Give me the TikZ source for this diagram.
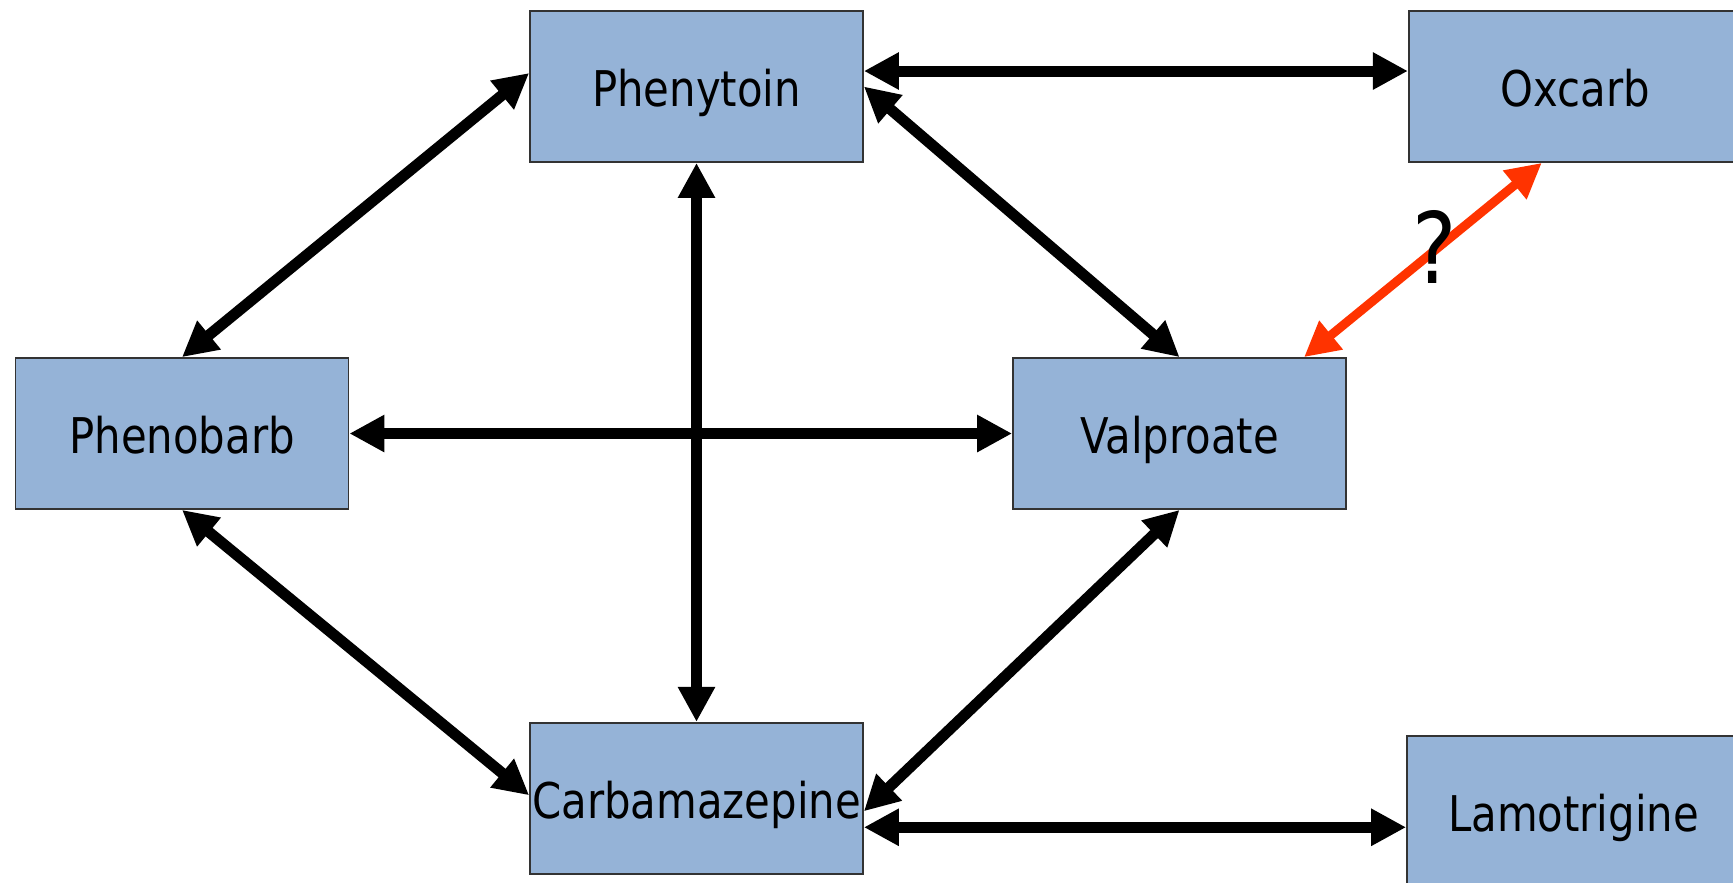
\documentclass[tikz,border=0pt]{standalone}
\usepackage{fontspec}
\setmainfont{DejaVu Sans}[FakeStretch=0.85]
\usepackage{tikz}
\usetikzlibrary{arrows.meta,positioning}

\definecolor{drugblue}{RGB}{149,179,215}
\definecolor{askred}{RGB}{255,51,0}

\begin{document}
\begin{tikzpicture}[
      font=\fontsize{14}{17}\selectfont,
      drug/.style={draw=black!80, line width=0.5pt, fill=drugblue, align=center,
        minimum width=3.33cm, minimum height=1.51cm, inner sep=0pt,
        text height=4mm, text depth=0pt},
      link/.style={{Triangle[length=3.5mm, width=3.5mm]}-{Triangle[length=3.5mm, width=3.5mm]},
        line width=1.1mm},
      ask/.style={link, draw=askred, line width=0.9mm},
    ]
    \useasboundingbox (0,0) rectangle (17.33,-8.82);
    \node[drug] (phenytoin) at (6.965,-0.865) {Phenytoin};
    \node[drug, right=5.44cm of phenytoin] (oxcarb) {Oxcarb};
    \node[drug] (phenobarb) at (1.82,-4.335) {Phenobarb};
    \node[drug] (valproate) at (11.795,-4.335) {Valproate};
    \node[drug, below=5.59cm of phenytoin] (carba) {Carbamazepine};
    \node[drug] (lamo) at (15.735,-8.115) {Lamotrigine};
    \draw[link] ([yshift=1.55mm]phenytoin.east)--([yshift=1.55mm]oxcarb.west);
    \draw[link] ([yshift=1.35mm]phenytoin.west)--(phenobarb.north);
    \draw[link] (phenytoin.east)--(valproate.north);
    \draw[link] (phenytoin.south)--(carba.north);
    \draw[link] (phenobarb.east)--(valproate.west);
    \draw[link] (phenobarb.south)--([yshift=0.3mm]carba.west);
    \draw[link] (valproate.south)--([yshift=-1.3mm]carba.east);
    \draw[link] ([yshift=-2.9mm]carba.east)--([yshift=-2.9mm]carba.east -| lamo.west);
    \draw[ask] ([xshift=12.45mm]valproate.north)--([xshift=-3.35mm]oxcarb.south);
    \node[font=\fontsize{28}{32}\selectfont] (q) at (14.35,-2.47) {?};
  \end{tikzpicture}
\end{document}
